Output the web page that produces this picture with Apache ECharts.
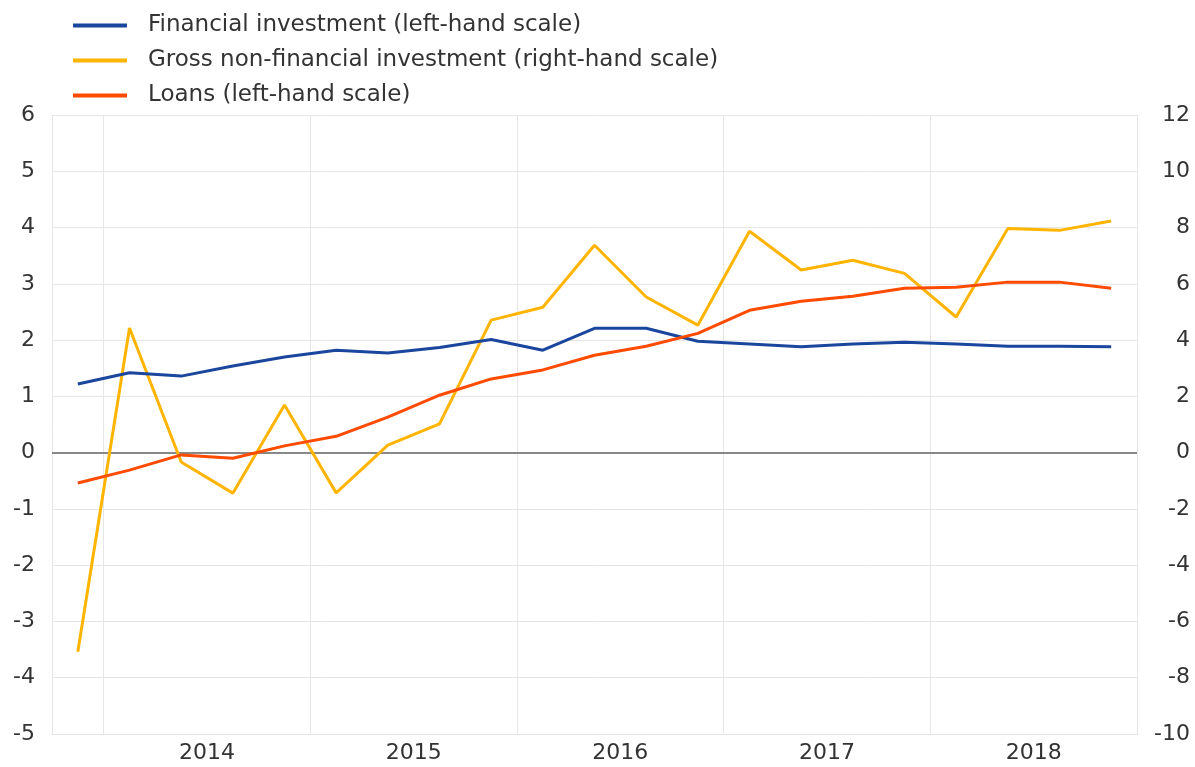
<!DOCTYPE html>
<html>
<head>
<meta charset="utf-8">
<script src="https://cdn.jsdelivr.net/npm/echarts@6/dist/echarts.min.js"></script>
<style>
  html, body { margin: 0; padding: 0; background: #fff; }
  #chart { width: 1195px; height: 767px; }
</style>
</head>
<body>
<div id="chart"></div>
<script>
const quarters = [
  '2013 Q4',
  '2014 Q1', '2014 Q2', '2014 Q3', '2014 Q4',
  '2015 Q1', '2015 Q2', '2015 Q3', '2015 Q4',
  '2016 Q1', '2016 Q2', '2016 Q3', '2016 Q4',
  '2017 Q1', '2017 Q2', '2017 Q3', '2017 Q4',
  '2018 Q1', '2018 Q2', '2018 Q3', '2018 Q4'
]
const years = ['2014', '2015', '2016', '2017', '2018']

// left-hand scale
const financialInvestment = [
  1.22, 1.42, 1.36, 1.54, 1.70, 1.82, 1.77, 1.87, 2.01, 1.82, 2.21,
  2.21, 1.98, 1.93, 1.88, 1.93, 1.96, 1.93, 1.89, 1.89, 1.88
]
const loans = [
  -0.54, -0.31, -0.04, -0.10, 0.12, 0.29, 0.63, 1.02, 1.31, 1.47, 1.73,
  1.89, 2.12, 2.53, 2.69, 2.78, 2.92, 2.94, 3.03, 3.03, 2.92
]
// right-hand scale
const grossNonFinancial = [
  -7.08, 4.43, -0.33, -1.44, 1.69, -1.43, 0.27, 1.02, 4.71, 5.17, 7.37,
  5.53, 4.53, 7.87, 6.49, 6.84, 6.37, 4.82, 7.97, 7.90, 8.23
]

const leftTicks = { min: -5, max: 6, interval: 1 }
const rightTicks = { min: -10, max: 12, interval: 2 }

// year boundaries / year centres in quarter units (first band starts at 0)
const yearEdges = [1, 5, 9, 13, 17, 21]
const yearCentres = [3, 7, 11, 15, 19]

const font = '"DejaVu Sans", Arial, Helvetica, sans-serif'
const textColor = '#333'
const gridColor = '#e6e6e6'

const chart = echarts.init(document.getElementById('chart'))

chart.setOption({
  animation: false,
  textStyle: { fontFamily: font },
  grid: {
    left: 52,
    right: 58,
    top: 115,
    bottom: 33
  },
  legend: {
    orient: 'vertical',
    left: 68,
    top: 9,
    itemGap: 12,
    itemWidth: 54,
    itemHeight: 4,
    icon: 'rect',
    textStyle: {
      fontFamily: font,
      fontSize: 23,
      color: textColor,
      padding: [0, 0, 0, 16]
    },
    data: [
      'Financial investment (left-hand scale)',
      'Gross non-financial investment (right-hand scale)',
      'Loans (left-hand scale)'
    ]
  },
  xAxis: [
    {
      type: 'category',
      data: quarters,
      boundaryGap: true,
      position: 'bottom',
      axisLine: { onZero: false, lineStyle: { color: gridColor } },
      axisTick: {
        alignWithLabel: true,
        interval: 0,
        length: 6,
        lineStyle: { color: gridColor }
      },
      axisLabel: { show: false },
      splitLine: {
        show: true,
        interval: (index) => index % 4 === 1,
        lineStyle: { color: gridColor, width: 1 }
      }
    },
    {
      type: 'value',
      min: 0,
      max: 21,
      position: 'bottom',
      axisLine: { show: false },
      axisTick: {
        show: true,
        customValues: yearEdges,
        length: 14,
        lineStyle: { color: gridColor }
      },
      axisLabel: {
        customValues: yearCentres,
        formatter: (v) => years[yearCentres.indexOf(v)] || '',
        color: textColor,
        fontSize: 22,
        margin: 8
      },
      splitLine: { show: false }
    }
  ],
  yAxis: [
    {
      type: 'value',
      min: leftTicks.min,
      max: leftTicks.max,
      interval: leftTicks.interval,
      position: 'left',
      axisLine: { show: true, lineStyle: { color: gridColor } },
      axisTick: { show: false },
      axisLabel: { color: textColor, fontSize: 22, margin: 17 },
      splitLine: { lineStyle: { color: gridColor, width: 1 } }
    },
    {
      type: 'value',
      min: rightTicks.min,
      max: rightTicks.max,
      interval: rightTicks.interval,
      position: 'right',
      axisLine: { show: true, lineStyle: { color: gridColor } },
      axisTick: { show: false },
      axisLabel: { color: textColor, fontSize: 22, margin: 53, align: 'right' },
      splitLine: { show: false }
    }
  ],
  series: [
    {
      name: 'Financial investment (left-hand scale)',
      type: 'line',
      xAxisIndex: 0,
      yAxisIndex: 0,
      data: financialInvestment,
      symbol: 'none',
      lineStyle: { color: '#1a469e', width: 3 },
      itemStyle: { color: '#1a469e' },
      z: 4,
      markLine: {
        silent: true,
        symbol: 'none',
        label: { show: false },
        lineStyle: { color: '#888', width: 2, type: 'solid' },
        data: [{ yAxis: 0 }],
        z: 1
      }
    },
    {
      name: 'Gross non-financial investment (right-hand scale)',
      type: 'line',
      xAxisIndex: 0,
      yAxisIndex: 1,
      data: grossNonFinancial,
      symbol: 'none',
      lineStyle: { color: '#ffb400', width: 3 },
      itemStyle: { color: '#ffb400' },
      z: 3
    },
    {
      name: 'Loans (left-hand scale)',
      type: 'line',
      xAxisIndex: 0,
      yAxisIndex: 0,
      data: loans,
      symbol: 'none',
      lineStyle: { color: '#ff4b00', width: 3 },
      itemStyle: { color: '#ff4b00' },
      z: 5
    }
  ]
})
</script>
</body>
</html>
